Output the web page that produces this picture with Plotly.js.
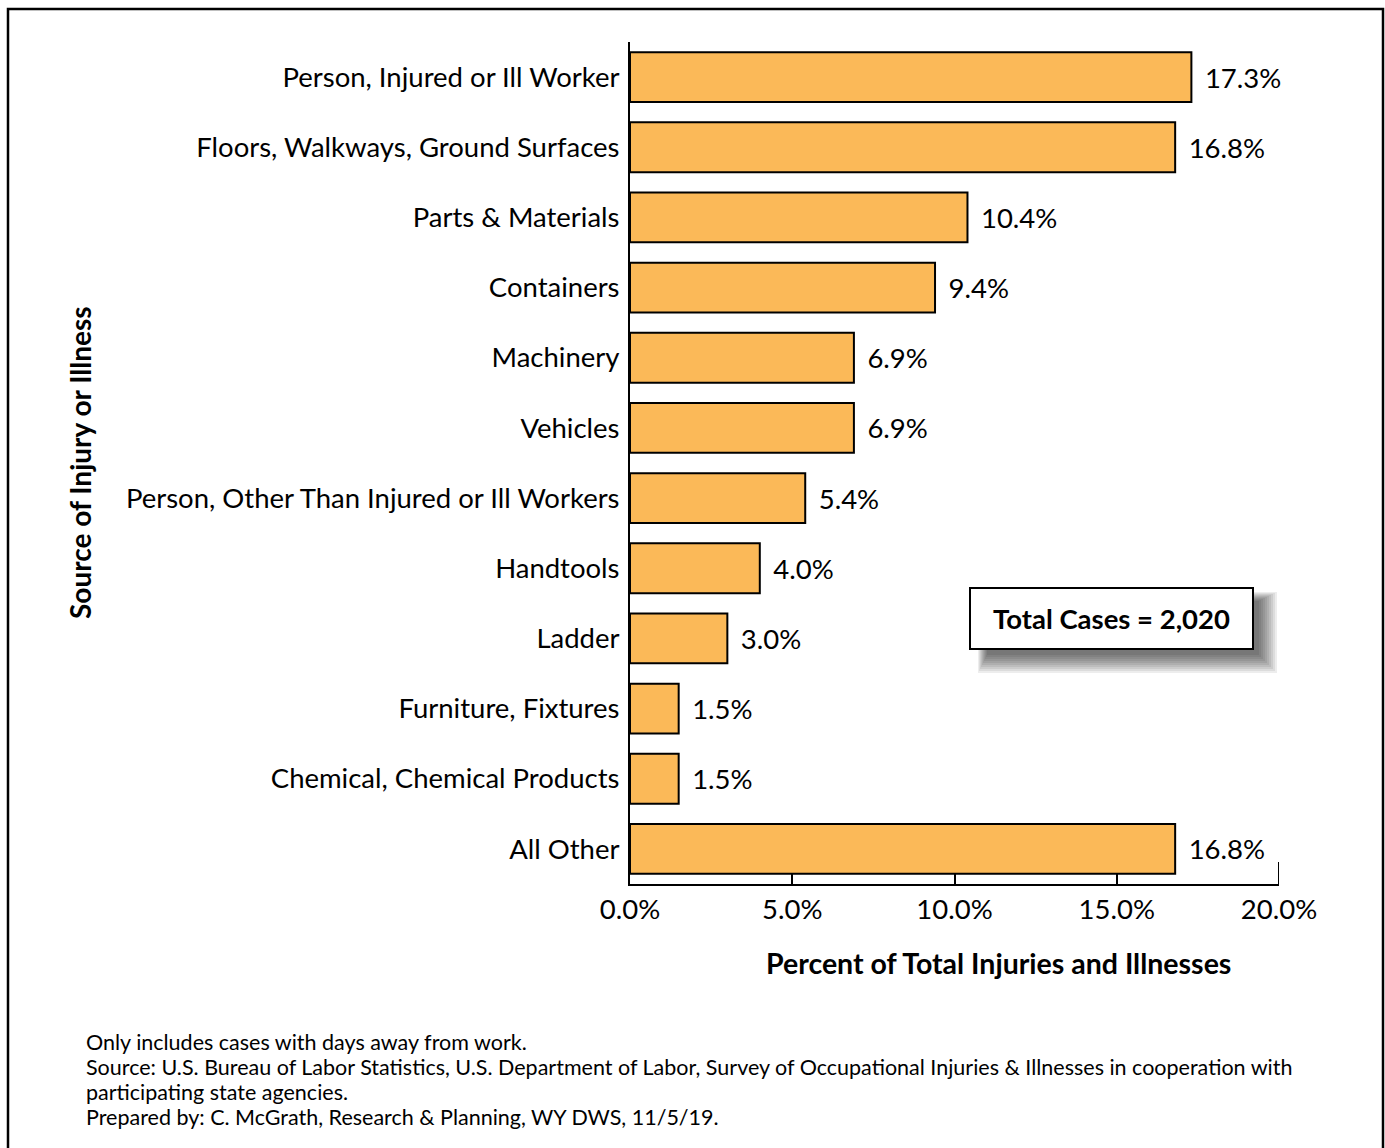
<!DOCTYPE html>
<html>
<head>
<meta charset="utf-8">
<script src="https://cdn.plot.ly/plotly-3.0.1.min.js"></script>
<style>
html,body{margin:0;padding:0;background:#fff;}
#chart{width:1385px;height:1148px;}
</style>
</head>
<body>
<div id="chart"></div>
<script>
const categories = [
  "Person, Injured or Ill Worker",
  "Floors, Walkways, Ground Surfaces",
  "Parts & Materials",
  "Containers",
  "Machinery",
  "Vehicles",
  "Person, Other Than Injured or Ill Workers",
  "Handtools",
  "Ladder",
  "Furniture, Fixtures",
  "Chemical, Chemical Products",
  "All Other"
];
const percents = [17.3, 16.8, 10.4, 9.4, 6.9, 6.9, 5.4, 4.0, 3.0, 1.5, 1.5, 16.8];
const tickVals = [0, 5, 10, 15, 20];
const tickLabels = ["0.0%", "5.0%", "10.0%", "15.0%", "20.0%"];
const totalText = "Total Cases = 2,020";
const footLines = [
  "Only includes cases with days away from work.",
  "Source: U.S. Bureau of Labor Statistics, U.S. Department of Labor, Survey of Occupational Injuries & Illnesses in cooperation with",
  "participating state agencies.",
  "Prepared by: C. McGrath, Research & Planning, WY DWS, 11/5/19."
];

const FONT = "Lato, 'Open Sans', sans-serif";
const FS = 27.5;

const trace = {
  type: "bar",
  orientation: "h",
  y: categories,
  x: percents,
  text: percents.map(v => "\u00a0\u2009" + v.toFixed(1) + "%"),
  textposition: "outside",
  cliponaxis: false,
  textfont: {family: FONT, size: FS, color: "#000"},
  marker: {color: "#FBB958", line: {color: "#000", width: 2}},
  hoverinfo: "none"
};

const W = 1385, H = 1148;
const ml = 630, mr = W - 1279, mt = 42, mb = H - 884;
const PW = W - ml - mr, PH = H - mt - mb;

const shapes = [
  {type: "rect", xref: "paper", yref: "paper",
   x0: (8 - ml) / PW, x1: (1383 - ml) / PW,
   y0: -(H + 5 - (H - mb)) / PH, y1: 1 + (mt - 9) / PH,
   line: {color: "#000", width: 2.5}, fillcolor: "rgba(0,0,0,0)", layer: "below"},
  {type: "line", xref: "x", yref: "paper", x0: 20, x1: 20, y0: 0, y1: 22 / PH,
   line: {color: "#000", width: 2}}
];

const bx0 = 970, bx1 = 1253, by0 = 588, by1 = 649;
function px2x(px) { return (px - ml) / PW * 20; }
function py2p(py) { return (H - mb - py) / PH; }
for (let i = 10; i >= 1; i--) {
  const o = 4 + i * 2;
  shapes.push({type: "rect", xref: "x", yref: "paper",
    x0: px2x(bx0 + 18 - i), x1: px2x(bx1 + o), y0: py2p(by1 + o), y1: py2p(by0 + 14 - i),
    fillcolor: "rgba(0,0,0,0.07)", line: {width: 0}});
}
shapes.push({type: "rect", xref: "x", yref: "paper",
  x0: px2x(bx0), x1: px2x(bx1), y0: py2p(by1), y1: py2p(by0),
  fillcolor: "#fff", line: {color: "#000", width: 2}});

const annotations = [
  {text: "<b>" + totalText + "</b>", xref: "x", yref: "paper",
   x: px2x((bx0 + bx1) / 2), y: py2p((by0 + by1) / 2), showarrow: false,
   font: {family: FONT, size: 27.5, color: "#000"}, xanchor: "center", yanchor: "middle"},
  {text: "<b>Source of Injury or Illness</b>", xref: "paper", yref: "paper",
   x: (80 - ml) / PW, y: py2p(463), textangle: -90, showarrow: false,
   font: {family: FONT, size: 28, color: "#000"}, xanchor: "center", yanchor: "middle"},
  {text: "<b>Percent of Total Injuries and Illnesses</b>", xref: "paper", yref: "paper",
   x: (998 - ml) / PW, y: py2p(963), showarrow: false,
   font: {family: FONT, size: 28.5, color: "#000"}, xanchor: "center", yanchor: "middle"}
];
footLines.forEach((t, i) => {
  annotations.push({text: t, xref: "paper", yref: "paper",
    x: (84 - ml) / PW, y: py2p(1042 + i * 25), showarrow: false, align: "left",
    font: {family: FONT, size: 21.5, color: "#000"}, xanchor: "left", yanchor: "middle"});
});

const layout = {
  width: W, height: H,
  margin: {l: ml, r: mr, t: mt, b: mb, pad: 0},
  paper_bgcolor: "#fff", plot_bgcolor: "#fff",
  font: {family: FONT, size: FS, color: "#000"},
  showlegend: false,
  bargap: 0.29,
  xaxis: {
    range: [0, 20], tickvals: tickVals, ticktext: tickLabels,
    ticks: "inside", ticklen: 10, tickwidth: 2, tickcolor: "#000",
    showline: true, linecolor: "#000", linewidth: 2,
    showgrid: false, zeroline: false, fixedrange: true,
    tickfont: {family: FONT, size: FS, color: "#000"}
  },
  yaxis: {
    autorange: "reversed", categoryorder: "array", categoryarray: categories,
    ticks: "", showline: true, linecolor: "#000", linewidth: 2,
    showgrid: false, zeroline: false, fixedrange: true, ticklabelstandoff: 3,
    tickfont: {family: FONT, size: FS, color: "#000"}
  },
  shapes: shapes,
  annotations: annotations
};

Plotly.newPlot("chart", [trace], layout, {displayModeBar: false, staticPlot: true});
</script>
</body>
</html>
